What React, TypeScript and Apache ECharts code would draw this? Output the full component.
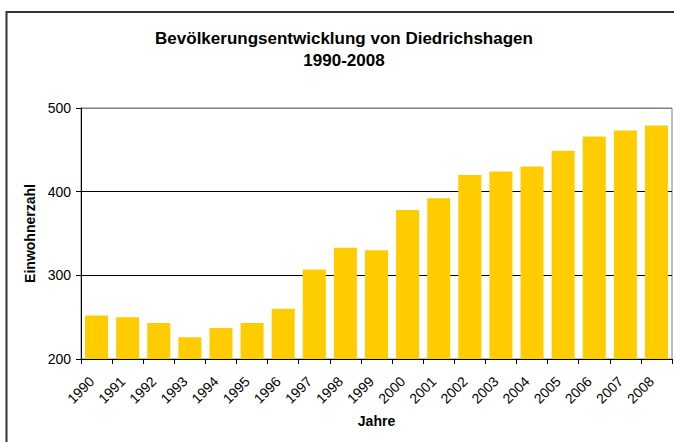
import React, { useEffect, useRef } from "react";
import * as echarts from "echarts";

const years = ["1990","1991","1992","1993","1994","1995","1996","1997","1998","1999","2000","2001","2002","2003","2004","2005","2006","2007","2008"];
const population = [252, 250, 243, 226, 237, 243, 260, 307, 333, 330, 378, 392, 420, 424, 430, 449, 466, 473, 479];
const yTicks = { min: 200, max: 500, interval: 100 };

const FONT = "Liberation Sans, Arial, sans-serif";

export default function App() {
  const ref = useRef<HTMLDivElement>(null);
  useEffect(() => {
    if (!ref.current) return;
    const chart = echarts.init(ref.current, null, { renderer: "svg" });
    chart.setOption({
      animation: false,
      backgroundColor: "#fff",
      title: {
        text: "Bevölkerungsentwicklung von Diedrichshagen\n1990-2008",
        left: 339,
        top: 22,
        textAlign: "center",
        textStyle: { fontFamily: FONT, fontSize: 17, fontWeight: "bold", color: "#000", lineHeight: 22 },
      },
      graphic: [
        {
          type: "rect",
          shape: { x: 6.5, y: 12, width: 800, height: 600 },
          style: { fill: "none", stroke: "#333", lineWidth: 2 },
          silent: true,
          z: 100,
        },
      ],
      grid: { left: 81, right: 2, top: 108, bottom: 83, show: true, borderColor: "#808080", borderWidth: 1, backgroundColor: "transparent" },
      xAxis: {
        type: "category",
        data: years,
        boundaryGap: true,
        name: "Jahre",
        nameLocation: "middle",
        nameGap: 55,
        nameTextStyle: { fontFamily: FONT, fontSize: 14, fontWeight: "bold", color: "#000" },
        axisLine: { show: true, lineStyle: { color: "#000", width: 1 } },
        axisTick: { show: true, length: 5, alignWithLabel: false, interval: 0, lineStyle: { color: "#000" } },
        axisLabel: { interval: 0, rotate: 45, margin: 15, padding: [0, 7, 0, 0], fontFamily: FONT, fontSize: 14, color: "#000" },
        splitLine: { show: false },
      },
      yAxis: {
        type: "value",
        min: yTicks.min,
        max: yTicks.max,
        interval: yTicks.interval,
        name: "Einwohnerzahl",
        nameLocation: "middle",
        nameGap: 42,
        nameTextStyle: { fontFamily: FONT, fontSize: 14, fontWeight: "bold", color: "#000" },
        axisLine: { show: true, lineStyle: { color: "#000", width: 1 } },
        axisTick: { show: true, length: 5, lineStyle: { color: "#000" } },
        axisLabel: { margin: 10, fontFamily: FONT, fontSize: 14, color: "#000" },
        splitLine: { show: true, lineStyle: { color: ["#000", "#000", "#000", "#808080"], width: 1 } },
      },
      series: [
        {
          type: "bar",
          data: population,
          barCategoryGap: "26%",
          itemStyle: { color: "#FFCC00" },
        },
      ],
    });
    return () => chart.dispose();
  }, []);
  return <div ref={ref} style={{ position: "absolute", left: 0, top: 0, width: 674, height: 442 }} />;
}
